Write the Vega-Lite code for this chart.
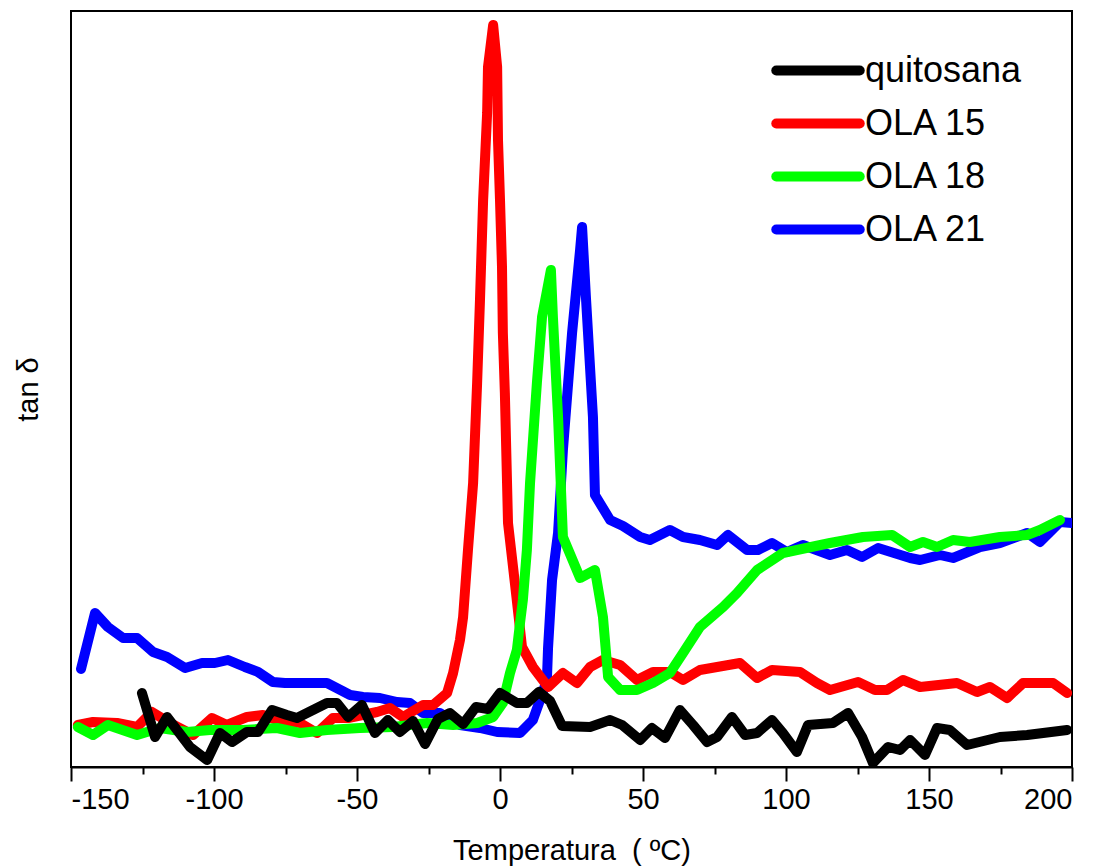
{
  "$schema": "https://vega.github.io/schema/vega-lite/v6.json",
  "autosize": "none",
  "width": 1001,
  "height": 756,
  "padding": {"left": 71, "top": 11, "right": 28, "bottom": 100},
  "background": "white",
  "config": {
    "view": {"stroke": "black", "strokeWidth": 2},
    "font": "Liberation Sans"
  },
  "data": {"values": [
    {"serie": "OLA 21", "temp": -146.5, "tan": 0.098},
    {"serie": "OLA 21", "temp": -141.6, "tan": 0.154},
    {"serie": "OLA 21", "temp": -137.1, "tan": 0.140},
    {"serie": "OLA 21", "temp": -131.8, "tan": 0.129},
    {"serie": "OLA 21", "temp": -126.9, "tan": 0.129},
    {"serie": "OLA 21", "temp": -121.3, "tan": 0.115},
    {"serie": "OLA 21", "temp": -116.4, "tan": 0.110},
    {"serie": "OLA 21", "temp": -110.1, "tan": 0.099},
    {"serie": "OLA 21", "temp": -104.2, "tan": 0.104},
    {"serie": "OLA 21", "temp": -99.7, "tan": 0.104},
    {"serie": "OLA 21", "temp": -95.1, "tan": 0.107},
    {"serie": "OLA 21", "temp": -89.2, "tan": 0.100},
    {"serie": "OLA 21", "temp": -84.6, "tan": 0.095},
    {"serie": "OLA 21", "temp": -79.4, "tan": 0.085},
    {"serie": "OLA 21", "temp": -75.2, "tan": 0.084},
    {"serie": "OLA 21", "temp": -64.7, "tan": 0.084},
    {"serie": "OLA 21", "temp": -60.5, "tan": 0.084},
    {"serie": "OLA 21", "temp": -52.4, "tan": 0.072},
    {"serie": "OLA 21", "temp": -47.9, "tan": 0.070},
    {"serie": "OLA 21", "temp": -42.0, "tan": 0.069},
    {"serie": "OLA 21", "temp": -36.0, "tan": 0.065},
    {"serie": "OLA 21", "temp": -31.5, "tan": 0.064},
    {"serie": "OLA 21", "temp": -26.9, "tan": 0.054},
    {"serie": "OLA 21", "temp": -21.0, "tan": 0.054},
    {"serie": "OLA 21", "temp": -14.0, "tan": 0.042},
    {"serie": "OLA 21", "temp": -7.0, "tan": 0.039},
    {"serie": "OLA 21", "temp": -1.0, "tan": 0.035},
    {"serie": "OLA 21", "temp": 7.0, "tan": 0.034},
    {"serie": "OLA 21", "temp": 11.5, "tan": 0.047},
    {"serie": "OLA 21", "temp": 14.0, "tan": 0.067},
    {"serie": "OLA 21", "temp": 16.4, "tan": 0.087},
    {"serie": "OLA 21", "temp": 16.8, "tan": 0.119},
    {"serie": "OLA 21", "temp": 18.2, "tan": 0.187},
    {"serie": "OLA 21", "temp": 20.3, "tan": 0.234},
    {"serie": "OLA 21", "temp": 22.0, "tan": 0.317},
    {"serie": "OLA 21", "temp": 25.2, "tan": 0.434},
    {"serie": "OLA 21", "temp": 28.0, "tan": 0.517},
    {"serie": "OLA 21", "temp": 28.7, "tan": 0.540},
    {"serie": "OLA 21", "temp": 30.1, "tan": 0.467},
    {"serie": "OLA 21", "temp": 32.5, "tan": 0.350},
    {"serie": "OLA 21", "temp": 33.2, "tan": 0.272},
    {"serie": "OLA 21", "temp": 38.5, "tan": 0.247},
    {"serie": "OLA 21", "temp": 43.0, "tan": 0.241},
    {"serie": "OLA 21", "temp": 49.0, "tan": 0.230},
    {"serie": "OLA 21", "temp": 52.4, "tan": 0.227},
    {"serie": "OLA 21", "temp": 59.4, "tan": 0.237},
    {"serie": "OLA 21", "temp": 64.0, "tan": 0.230},
    {"serie": "OLA 21", "temp": 69.9, "tan": 0.227},
    {"serie": "OLA 21", "temp": 75.9, "tan": 0.222},
    {"serie": "OLA 21", "temp": 79.7, "tan": 0.232},
    {"serie": "OLA 21", "temp": 86.4, "tan": 0.217},
    {"serie": "OLA 21", "temp": 90.2, "tan": 0.217},
    {"serie": "OLA 21", "temp": 95.1, "tan": 0.224},
    {"serie": "OLA 21", "temp": 100.3, "tan": 0.215},
    {"serie": "OLA 21", "temp": 105.9, "tan": 0.222},
    {"serie": "OLA 21", "temp": 115.4, "tan": 0.212},
    {"serie": "OLA 21", "temp": 121.3, "tan": 0.217},
    {"serie": "OLA 21", "temp": 126.6, "tan": 0.210},
    {"serie": "OLA 21", "temp": 132.2, "tan": 0.219},
    {"serie": "OLA 21", "temp": 143.4, "tan": 0.209},
    {"serie": "OLA 21", "temp": 146.9, "tan": 0.207},
    {"serie": "OLA 21", "temp": 153.8, "tan": 0.212},
    {"serie": "OLA 21", "temp": 158.4, "tan": 0.209},
    {"serie": "OLA 21", "temp": 167.8, "tan": 0.220},
    {"serie": "OLA 21", "temp": 174.8, "tan": 0.224},
    {"serie": "OLA 21", "temp": 184.3, "tan": 0.234},
    {"serie": "OLA 21", "temp": 188.8, "tan": 0.225},
    {"serie": "OLA 21", "temp": 195.8, "tan": 0.245},
    {"serie": "OLA 21", "temp": 200.0, "tan": 0.244},

    {"serie": "OLA 15", "temp": -147.6, "tan": 0.042},
    {"serie": "OLA 15", "temp": -142.3, "tan": 0.045},
    {"serie": "OLA 15", "temp": -133.9, "tan": 0.044},
    {"serie": "OLA 15", "temp": -126.9, "tan": 0.040},
    {"serie": "OLA 15", "temp": -121.7, "tan": 0.055},
    {"serie": "OLA 15", "temp": -115.4, "tan": 0.044},
    {"serie": "OLA 15", "temp": -107.3, "tan": 0.032},
    {"serie": "OLA 15", "temp": -100.7, "tan": 0.049},
    {"serie": "OLA 15", "temp": -95.5, "tan": 0.042},
    {"serie": "OLA 15", "temp": -88.5, "tan": 0.050},
    {"serie": "OLA 15", "temp": -82.9, "tan": 0.052},
    {"serie": "OLA 15", "temp": -78.0, "tan": 0.047},
    {"serie": "OLA 15", "temp": -69.9, "tan": 0.044},
    {"serie": "OLA 15", "temp": -64.0, "tan": 0.034},
    {"serie": "OLA 15", "temp": -58.4, "tan": 0.049},
    {"serie": "OLA 15", "temp": -53.1, "tan": 0.049},
    {"serie": "OLA 15", "temp": -43.0, "tan": 0.055},
    {"serie": "OLA 15", "temp": -38.5, "tan": 0.059},
    {"serie": "OLA 15", "temp": -33.9, "tan": 0.050},
    {"serie": "OLA 15", "temp": -26.9, "tan": 0.062},
    {"serie": "OLA 15", "temp": -23.4, "tan": 0.062},
    {"serie": "OLA 15", "temp": -18.5, "tan": 0.074},
    {"serie": "OLA 15", "temp": -16.4, "tan": 0.094},
    {"serie": "OLA 15", "temp": -14.0, "tan": 0.127},
    {"serie": "OLA 15", "temp": -12.9, "tan": 0.150},
    {"serie": "OLA 15", "temp": -11.2, "tan": 0.217},
    {"serie": "OLA 15", "temp": -9.4, "tan": 0.284},
    {"serie": "OLA 15", "temp": -8.0, "tan": 0.384},
    {"serie": "OLA 15", "temp": -7.0, "tan": 0.467},
    {"serie": "OLA 15", "temp": -5.9, "tan": 0.567},
    {"serie": "OLA 15", "temp": -4.5, "tan": 0.654},
    {"serie": "OLA 15", "temp": -4.2, "tan": 0.700},
    {"serie": "OLA 15", "temp": -2.4, "tan": 0.742},
    {"serie": "OLA 15", "temp": -1.0, "tan": 0.700},
    {"serie": "OLA 15", "temp": -0.7, "tan": 0.627},
    {"serie": "OLA 15", "temp": 0.0, "tan": 0.567},
    {"serie": "OLA 15", "temp": 0.7, "tan": 0.500},
    {"serie": "OLA 15", "temp": 1.0, "tan": 0.434},
    {"serie": "OLA 15", "temp": 1.7, "tan": 0.374},
    {"serie": "OLA 15", "temp": 2.8, "tan": 0.244},
    {"serie": "OLA 15", "temp": 5.2, "tan": 0.184},
    {"serie": "OLA 15", "temp": 7.7, "tan": 0.120},
    {"serie": "OLA 15", "temp": 11.5, "tan": 0.100},
    {"serie": "OLA 15", "temp": 16.8, "tan": 0.080},
    {"serie": "OLA 15", "temp": 22.0, "tan": 0.094},
    {"serie": "OLA 15", "temp": 26.9, "tan": 0.084},
    {"serie": "OLA 15", "temp": 31.5, "tan": 0.100},
    {"serie": "OLA 15", "temp": 36.0, "tan": 0.107},
    {"serie": "OLA 15", "temp": 42.0, "tan": 0.102},
    {"serie": "OLA 15", "temp": 47.9, "tan": 0.087},
    {"serie": "OLA 15", "temp": 53.5, "tan": 0.095},
    {"serie": "OLA 15", "temp": 59.4, "tan": 0.095},
    {"serie": "OLA 15", "temp": 64.0, "tan": 0.087},
    {"serie": "OLA 15", "temp": 69.9, "tan": 0.097},
    {"serie": "OLA 15", "temp": 75.9, "tan": 0.100},
    {"serie": "OLA 15", "temp": 83.9, "tan": 0.104},
    {"serie": "OLA 15", "temp": 89.9, "tan": 0.089},
    {"serie": "OLA 15", "temp": 95.1, "tan": 0.097},
    {"serie": "OLA 15", "temp": 104.9, "tan": 0.095},
    {"serie": "OLA 15", "temp": 110.8, "tan": 0.084},
    {"serie": "OLA 15", "temp": 115.4, "tan": 0.077},
    {"serie": "OLA 15", "temp": 125.2, "tan": 0.085},
    {"serie": "OLA 15", "temp": 131.1, "tan": 0.077},
    {"serie": "OLA 15", "temp": 135.3, "tan": 0.077},
    {"serie": "OLA 15", "temp": 140.9, "tan": 0.087},
    {"serie": "OLA 15", "temp": 146.9, "tan": 0.080},
    {"serie": "OLA 15", "temp": 159.8, "tan": 0.084},
    {"serie": "OLA 15", "temp": 166.8, "tan": 0.075},
    {"serie": "OLA 15", "temp": 171.3, "tan": 0.080},
    {"serie": "OLA 15", "temp": 177.3, "tan": 0.069},
    {"serie": "OLA 15", "temp": 182.9, "tan": 0.084},
    {"serie": "OLA 15", "temp": 193.4, "tan": 0.084},
    {"serie": "OLA 15", "temp": 198.3, "tan": 0.074},

    {"serie": "OLA 18", "temp": -147.6, "tan": 0.040},
    {"serie": "OLA 18", "temp": -142.3, "tan": 0.032},
    {"serie": "OLA 18", "temp": -137.1, "tan": 0.042},
    {"serie": "OLA 18", "temp": -126.9, "tan": 0.032},
    {"serie": "OLA 18", "temp": -118.9, "tan": 0.039},
    {"serie": "OLA 18", "temp": -109.4, "tan": 0.035},
    {"serie": "OLA 18", "temp": -101.4, "tan": 0.037},
    {"serie": "OLA 18", "temp": -89.9, "tan": 0.037},
    {"serie": "OLA 18", "temp": -78.0, "tan": 0.039},
    {"serie": "OLA 18", "temp": -69.9, "tan": 0.034},
    {"serie": "OLA 18", "temp": -60.5, "tan": 0.037},
    {"serie": "OLA 18", "temp": -49.0, "tan": 0.039},
    {"serie": "OLA 18", "temp": -37.4, "tan": 0.040},
    {"serie": "OLA 18", "temp": -25.5, "tan": 0.044},
    {"serie": "OLA 18", "temp": -16.4, "tan": 0.042},
    {"serie": "OLA 18", "temp": -8.0, "tan": 0.044},
    {"serie": "OLA 18", "temp": -2.4, "tan": 0.050},
    {"serie": "OLA 18", "temp": 1.0, "tan": 0.064},
    {"serie": "OLA 18", "temp": 3.5, "tan": 0.094},
    {"serie": "OLA 18", "temp": 5.9, "tan": 0.117},
    {"serie": "OLA 18", "temp": 7.0, "tan": 0.144},
    {"serie": "OLA 18", "temp": 8.0, "tan": 0.167},
    {"serie": "OLA 18", "temp": 9.4, "tan": 0.217},
    {"serie": "OLA 18", "temp": 10.5, "tan": 0.284},
    {"serie": "OLA 18", "temp": 12.9, "tan": 0.384},
    {"serie": "OLA 18", "temp": 14.7, "tan": 0.450},
    {"serie": "OLA 18", "temp": 17.8, "tan": 0.497},
    {"serie": "OLA 18", "temp": 18.5, "tan": 0.450},
    {"serie": "OLA 18", "temp": 20.3, "tan": 0.350},
    {"serie": "OLA 18", "temp": 22.0, "tan": 0.230},
    {"serie": "OLA 18", "temp": 28.0, "tan": 0.189},
    {"serie": "OLA 18", "temp": 33.2, "tan": 0.197},
    {"serie": "OLA 18", "temp": 36.0, "tan": 0.150},
    {"serie": "OLA 18", "temp": 37.8, "tan": 0.090},
    {"serie": "OLA 18", "temp": 42.0, "tan": 0.077},
    {"serie": "OLA 18", "temp": 47.9, "tan": 0.077},
    {"serie": "OLA 18", "temp": 53.5, "tan": 0.084},
    {"serie": "OLA 18", "temp": 59.4, "tan": 0.094},
    {"serie": "OLA 18", "temp": 64.0, "tan": 0.114},
    {"serie": "OLA 18", "temp": 69.9, "tan": 0.140},
    {"serie": "OLA 18", "temp": 78.0, "tan": 0.160},
    {"serie": "OLA 18", "temp": 82.9, "tan": 0.174},
    {"serie": "OLA 18", "temp": 89.9, "tan": 0.197},
    {"serie": "OLA 18", "temp": 98.9, "tan": 0.214},
    {"serie": "OLA 18", "temp": 103.8, "tan": 0.217},
    {"serie": "OLA 18", "temp": 115.4, "tan": 0.224},
    {"serie": "OLA 18", "temp": 126.9, "tan": 0.230},
    {"serie": "OLA 18", "temp": 137.1, "tan": 0.232},
    {"serie": "OLA 18", "temp": 143.4, "tan": 0.220},
    {"serie": "OLA 18", "temp": 147.9, "tan": 0.225},
    {"serie": "OLA 18", "temp": 152.8, "tan": 0.220},
    {"serie": "OLA 18", "temp": 158.4, "tan": 0.227},
    {"serie": "OLA 18", "temp": 164.3, "tan": 0.225},
    {"serie": "OLA 18", "temp": 174.8, "tan": 0.230},
    {"serie": "OLA 18", "temp": 184.3, "tan": 0.232},
    {"serie": "OLA 18", "temp": 188.8, "tan": 0.237},
    {"serie": "OLA 18", "temp": 195.8, "tan": 0.247},

    {"serie": "quitosana", "temp": -125.2, "tan": 0.074},
    {"serie": "quitosana", "temp": -120.6, "tan": 0.030},
    {"serie": "quitosana", "temp": -116.4, "tan": 0.050},
    {"serie": "quitosana", "temp": -108.4, "tan": 0.020},
    {"serie": "quitosana", "temp": -102.4, "tan": 0.007},
    {"serie": "quitosana", "temp": -97.9, "tan": 0.034},
    {"serie": "quitosana", "temp": -93.7, "tan": 0.025},
    {"serie": "quitosana", "temp": -88.5, "tan": 0.035},
    {"serie": "quitosana", "temp": -84.6, "tan": 0.035},
    {"serie": "quitosana", "temp": -79.7, "tan": 0.057},
    {"serie": "quitosana", "temp": -74.5, "tan": 0.052},
    {"serie": "quitosana", "temp": -71.0, "tan": 0.049},
    {"serie": "quitosana", "temp": -65.4, "tan": 0.057},
    {"serie": "quitosana", "temp": -60.5, "tan": 0.064},
    {"serie": "quitosana", "temp": -57.0, "tan": 0.064},
    {"serie": "quitosana", "temp": -53.1, "tan": 0.050},
    {"serie": "quitosana", "temp": -48.3, "tan": 0.062},
    {"serie": "quitosana", "temp": -43.7, "tan": 0.034},
    {"serie": "quitosana", "temp": -39.2, "tan": 0.047},
    {"serie": "quitosana", "temp": -35.0, "tan": 0.035},
    {"serie": "quitosana", "temp": -30.4, "tan": 0.046},
    {"serie": "quitosana", "temp": -26.2, "tan": 0.023},
    {"serie": "quitosana", "temp": -21.7, "tan": 0.048},
    {"serie": "quitosana", "temp": -17.5, "tan": 0.054},
    {"serie": "quitosana", "temp": -12.9, "tan": 0.043},
    {"serie": "quitosana", "temp": -8.4, "tan": 0.060},
    {"serie": "quitosana", "temp": -4.2, "tan": 0.058},
    {"serie": "quitosana", "temp": 0.0, "tan": 0.074},
    {"serie": "quitosana", "temp": 5.9, "tan": 0.064},
    {"serie": "quitosana", "temp": 9.4, "tan": 0.064},
    {"serie": "quitosana", "temp": 13.6, "tan": 0.075},
    {"serie": "quitosana", "temp": 17.5, "tan": 0.066},
    {"serie": "quitosana", "temp": 21.7, "tan": 0.041},
    {"serie": "quitosana", "temp": 31.5, "tan": 0.040},
    {"serie": "quitosana", "temp": 38.5, "tan": 0.047},
    {"serie": "quitosana", "temp": 42.7, "tan": 0.042},
    {"serie": "quitosana", "temp": 49.0, "tan": 0.027},
    {"serie": "quitosana", "temp": 53.1, "tan": 0.039},
    {"serie": "quitosana", "temp": 57.7, "tan": 0.029},
    {"serie": "quitosana", "temp": 62.9, "tan": 0.057},
    {"serie": "quitosana", "temp": 67.5, "tan": 0.042},
    {"serie": "quitosana", "temp": 72.4, "tan": 0.025},
    {"serie": "quitosana", "temp": 75.9, "tan": 0.030},
    {"serie": "quitosana", "temp": 81.1, "tan": 0.050},
    {"serie": "quitosana", "temp": 85.7, "tan": 0.032},
    {"serie": "quitosana", "temp": 89.9, "tan": 0.034},
    {"serie": "quitosana", "temp": 95.1, "tan": 0.047},
    {"serie": "quitosana", "temp": 98.9, "tan": 0.034},
    {"serie": "quitosana", "temp": 103.8, "tan": 0.015},
    {"serie": "quitosana", "temp": 107.7, "tan": 0.042},
    {"serie": "quitosana", "temp": 116.4, "tan": 0.044},
    {"serie": "quitosana", "temp": 121.7, "tan": 0.054},
    {"serie": "quitosana", "temp": 126.6, "tan": 0.030},
    {"serie": "quitosana", "temp": 130.4, "tan": 0.004},
    {"serie": "quitosana", "temp": 135.7, "tan": 0.020},
    {"serie": "quitosana", "temp": 139.9, "tan": 0.017},
    {"serie": "quitosana", "temp": 143.4, "tan": 0.027},
    {"serie": "quitosana", "temp": 148.6, "tan": 0.012},
    {"serie": "quitosana", "temp": 152.8, "tan": 0.039},
    {"serie": "quitosana", "temp": 157.3, "tan": 0.037},
    {"serie": "quitosana", "temp": 163.3, "tan": 0.022},
    {"serie": "quitosana", "temp": 174.8, "tan": 0.030},
    {"serie": "quitosana", "temp": 184.3, "tan": 0.032},
    {"serie": "quitosana", "temp": 198.3, "tan": 0.037}
  ]},
  "layer": [
    {
      "transform": [{"filter": "datum.serie === 'OLA 21'"}],
      "mark": {"type": "line", "strokeWidth": 10, "strokeJoin": "round", "strokeCap": "round", "clip": true},
      "encoding": {
        "x": {"field": "temp", "type": "quantitative",
              "scale": {"domain": [-150, 200], "nice": false, "zero": false},
              "axis": {"title": "Temperatura\u00a0\u00a0(\u00a0ºC)",
                       "values": [-150, -125, -100, -75, -50, -25, 0, 25, 50, 75, 100, 125, 150, 175, 200],
                       "labelExpr": "datum.value % 50 === 0 ? '' + datum.value : ''",
                       "grid": false,
                       "tickSize": {"condition": {"test": "datum.value % 50 === 0", "value": 14}, "value": 7},
                       "tickWidth": 2, "tickColor": "black",
                       "domainColor": "black", "domainWidth": 2,
                       "labelFont": "Liberation Sans", "labelFontSize": 29, "labelColor": "black", "labelPadding": 4,
                       "labelOverlap": false,
                       "titleFont": "Liberation Sans", "titleFontSize": 29, "titleFontWeight": "normal", "titleColor": "black", "titlePadding": 22}},
        "y": {"field": "tan", "type": "quantitative",
              "scale": {"domain": [0, 0.756], "nice": false, "zero": false},
              "axis": {"title": "tan δ", "labels": false, "ticks": false, "grid": false, "domain": false,
                       "titleFont": "Liberation Sans", "titleFontSize": 29, "titleFontWeight": "normal", "titleColor": "black", "titlePadding": 28}},
        "color": {"field": "serie", "type": "nominal",
                  "scale": {"domain": ["quitosana", "OLA 15", "OLA 18", "OLA 21"], "range": ["#000000", "#ff0000", "#00ff00", "#0000ff"]},
                  "legend": {"title": null, "orient": "none", "legendX": 721.5, "legendY": 34,
                             "symbolType": "M-2.06,0H2.06", "symbolSize": 1640, "symbolStrokeWidth": 10,
                             "labelFont": "Liberation Sans", "labelFontSize": 36, "labelColor": "black", "labelOffset": 21.5,
                             "rowPadding": 7, "labelLimit": 400,
                             "encode": {"symbols": {"update": {"strokeCap": {"value": "round"}}}}}}
      }
    },
    {
      "transform": [{"filter": "datum.serie === 'OLA 15'"}],
      "mark": {"type": "line", "strokeWidth": 10, "strokeJoin": "round", "strokeCap": "round", "clip": true},
      "encoding": {
        "x": {"field": "temp", "type": "quantitative"},
        "y": {"field": "tan", "type": "quantitative"},
        "color": {"field": "serie", "type": "nominal"}
      }
    },
    {
      "transform": [{"filter": "datum.serie === 'OLA 18'"}],
      "mark": {"type": "line", "strokeWidth": 10, "strokeJoin": "round", "strokeCap": "round", "clip": true},
      "encoding": {
        "x": {"field": "temp", "type": "quantitative"},
        "y": {"field": "tan", "type": "quantitative"},
        "color": {"field": "serie", "type": "nominal"}
      }
    },
    {
      "transform": [{"filter": "datum.serie === 'quitosana'"}],
      "mark": {"type": "line", "strokeWidth": 10, "strokeJoin": "round", "strokeCap": "round", "clip": true},
      "encoding": {
        "x": {"field": "temp", "type": "quantitative"},
        "y": {"field": "tan", "type": "quantitative"},
        "color": {"field": "serie", "type": "nominal"}
      }
    }
  ]
}
